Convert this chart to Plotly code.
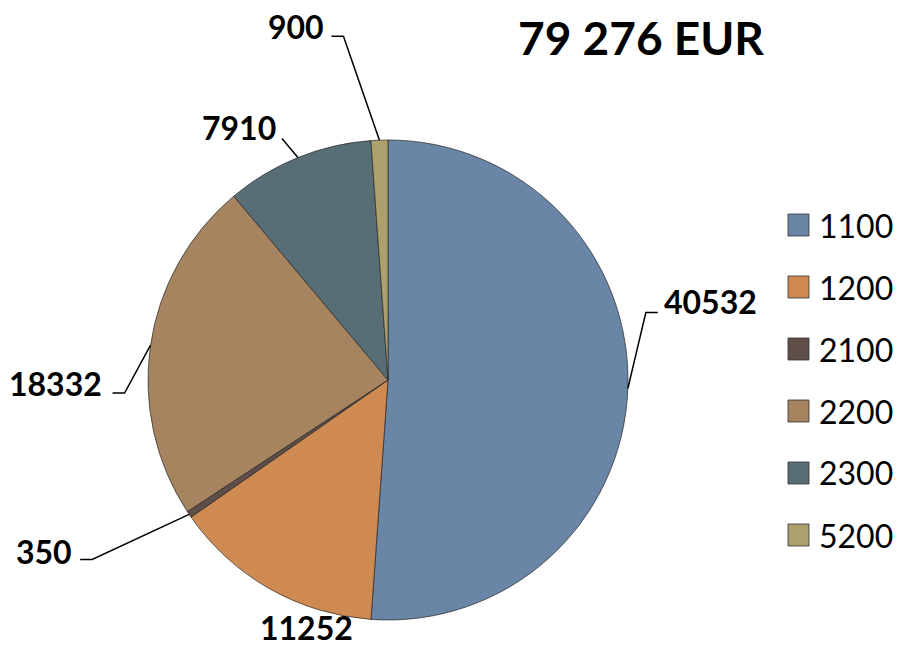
import math
import plotly.graph_objects as go

W, H = 897, 650

categories = ["1100", "1200", "2100", "2200", "2300", "5200"]
values = [40532, 11252, 350, 18332, 7910, 900]
title_text = "79 276 EUR"

colors = ["#6A86A6", "#CF8A52", "#5E4E47", "#A6845F", "#586E76", "#ACA06C"]

# pie placement in pixels
CX, CY, R = 388, 380, 240

# label placement per slice, offsets in px from the slice's edge point
# (leader bends, text anchor point, text side)
label_pos = [
    dict(leader=[(18, -76), (30, -76)], text=(35, -87), side="left"),
    dict(leader=[], text=(37, 39), side="center"),
    dict(leader=[(-97, 45), (-109, 45)], text=(-116, 37), side="right"),
    dict(leader=[(-26, 48), (-38, 48)], text=(-48, 38), side="right"),
    dict(leader=[(-16, -19)], text=(-21, -30), side="right"),
    dict(leader=[(-36, -104), (-48, -104)], text=(-54, -114), side="right"),
]


def px(x):
    return x / W


def py(y):
    return 1 - y / H


fig = go.Figure()
fig.add_trace(go.Pie(
    labels=categories, values=values, sort=False, direction="clockwise",
    rotation=0, textinfo="none", hoverinfo="label+value",
    marker=dict(colors=colors, line=dict(color="rgba(40,40,40,0.7)", width=1)),
    domain=dict(x=[px(CX - R), px(CX + R)], y=[py(CY + R), py(CY - R)]),
    showlegend=False,
))

shapes = []
annotations = []
total = sum(values)
acc = 0
for v, pos in zip(values, label_pos):
    mid = (acc + v / 2) / total * 2 * math.pi
    acc += v
    ax = CX + R * math.sin(mid)
    ay = CY - R * math.cos(mid)
    pts = [(ax, ay)] + [(ax + dx, ay + dy) for dx, dy in pos["leader"]]
    if len(pts) > 1:
        path = "M " + " L ".join(f"{px(x):.5f},{py(y):.5f}" for x, y in pts)
        shapes.append(dict(type="path", path=path, xref="paper", yref="paper",
                           line=dict(color="black", width=1.5)))
    tx, ty = ax + pos["text"][0], ay + pos["text"][1]
    annotations.append(dict(
        x=px(tx), y=py(ty), xref="paper", yref="paper", text=f"{v}",
        showarrow=False, xanchor=pos["side"], yanchor="middle", borderpad=0,
        font=dict(family="Lato", size=32, color="black", weight="bold"),
    ))

# legend drawn by hand to get the wide spacing
for i, (cat, col) in enumerate(zip(categories, colors)):
    yc = 225 + i * 62
    shapes.append(dict(type="rect", xref="paper", yref="paper",
                       x0=px(788), x1=px(809), y0=py(yc - 11), y1=py(yc + 11),
                       fillcolor=col, line=dict(color="rgba(50,50,50,0.8)", width=1)))
    annotations.append(dict(x=px(817), y=py(yc), xref="paper", yref="paper",
                            text=cat, showarrow=False, xanchor="left", yanchor="middle",
                            font=dict(family="Lato", size=32, color="black")))

annotations.append(dict(x=px(641), y=py(37), xref="paper", yref="paper",
                        text=title_text, showarrow=False, xanchor="center", yanchor="middle",
                        font=dict(family="Lato", size=46, color="black", weight="bold")))

fig.update_layout(
    width=W, height=H, margin=dict(l=0, r=0, t=0, b=0),
    paper_bgcolor="white", plot_bgcolor="white",
    shapes=shapes, annotations=annotations,
)
# page body has an 8px default margin; drop it so the figure fills the window
fig.write_html("out.html", config={"displayModeBar": False},
               post_script="document.body.style.margin='0';")
